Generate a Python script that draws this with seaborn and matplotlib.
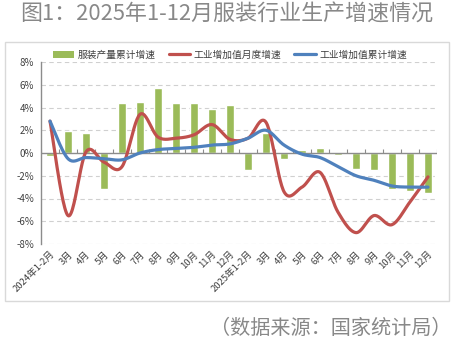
import numpy as np
import pandas as pd
import matplotlib
matplotlib.use("Agg")
import matplotlib.pyplot as plt
from matplotlib.patches import Patch, Rectangle
from matplotlib.lines import Line2D
import seaborn as sns

categories = ["2024年1-2月", "3月", "4月", "5月", "6月", "7月", "8月", "9月", "10月", "11月", "12月",
              "2025年1-2月", "3月 ", "4月 ", "5月 ", "6月 ", "7月 ", "8月 ", "9月 ", "10月 ", "11月 ", "12月 "]
tick_labels = ["2024年1-2月", "3月", "4月", "5月", "6月", "7月", "8月", "9月", "10月", "11月", "12月",
               "2025年1-2月", "3月", "4月", "5月", "6月", "7月", "8月", "9月", "10月", "11月", "12月"]
apparel_cum = [-0.3, 1.9, 1.8, -3.2, 4.4, 4.5, 5.7, 4.4, 4.4, 3.9, 4.2,
               -1.5, 1.8, -0.5, 0.3, 0.4, -0.2, -1.4, -1.5, -3.2, -3.3, -3.5]
iva_month = [2.8, -5.5, 0.1, -0.8, -1.2, 3.4, 1.4, 1.3, 1.6, 2.5, 1.2,
             1.3, 2.7, -3.4, -3.0, -1.7, -5.2, -7.0, -5.5, -6.3, -4.3, -2.1]
iva_cum = [2.8, -0.5, -0.4, -0.5, -0.6, 0.0, 0.3, 0.4, 0.5, 0.7, 0.8,
           1.3, 2.0, 0.7, -0.1, -0.4, -1.2, -2.0, -2.4, -2.9, -3.0, -3.0]
yticks = [-8, -6, -4, -2, 0, 2, 4, 6, 8]

GREEN = "#9BBB59"
RED = "#C0504D"
BLUE = "#4F81BD"
TXT = "#404040"

sns.set_style("white")
plt.rcParams["font.family"] = ["Noto Sans CJK SC", "DejaVu Sans"]

fig = plt.figure(figsize=(4.7, 3.44), dpi=100)
ax = fig.add_axes([41/470, 1-244/344, 396/470, 182/344])

df = pd.DataFrame({"cat": categories, "val": apparel_cum})
sns.barplot(data=df, x="cat", y="val", color=GREEN, saturation=1, width=0.42, ax=ax)


def smooth(xs, ys, n=24):
    xs = np.asarray(xs, float); ys = np.asarray(ys, float)
    P = np.column_stack([xs, ys])
    Pe = np.vstack([P[0], P, P[-1]])
    out = []
    for i in range(len(P) - 1):
        p0, p1, p2, p3 = Pe[i], Pe[i+1], Pe[i+2], Pe[i+3]
        c1 = p1 + (p2 - p0) / 6
        c2 = p2 - (p3 - p1) / 6
        t = np.linspace(0, 1, n, endpoint=(i == len(P) - 2))[:, None]
        seg = (1-t)**3*p1 + 3*(1-t)**2*t*c1 + 3*(1-t)*t**2*c2 + t**3*p2
        out.append(seg)
    out = np.vstack(out)
    return out[:, 0], out[:, 1]

xpos = np.arange(len(categories))
sx, sy = smooth(xpos, iva_month)
ax.plot(sx, sy, color=RED, lw=2.3, solid_capstyle="round", zorder=4)
sx, sy = smooth(xpos, iva_cum)
ax.plot(sx, sy, color=BLUE, lw=2.3, solid_capstyle="round", zorder=5)

ax.set_xlim(-0.5, len(categories) - 0.5)
ax.set_ylim(-8, 8)
ax.set_yticks(yticks)
ax.set_yticklabels([f"{v}%" for v in yticks], color=TXT, fontsize=7)
for v in yticks:
    if v != 0:
        ax.axhline(v, color="#d0d0d0", lw=0.8, ls=(0, (4, 3)), zorder=0)
ax.axhline(0, color="#8c8c8c", lw=1.0, zorder=3)
ax.vlines(np.arange(len(categories) + 1) - 0.5, 0, 0.35, color="#8c8c8c", lw=0.8, zorder=3)

ax.set_xticks(xpos)
ax.set_xticklabels(tick_labels, rotation=45, ha="right", rotation_mode="anchor",
                   color=TXT, fontsize=6.8)
ax.tick_params(axis="x", length=0, pad=4)
ax.tick_params(axis="y", length=0, pad=5)
ax.set_xlabel("")
ax.set_ylabel("")
for s in ["top", "right", "bottom"]:
    ax.spines[s].set_visible(False)
ax.spines["left"].set_color("#8c8c8c")
ax.spines["left"].set_linewidth(1.0)

handles = [Patch(facecolor=GREEN, edgecolor="none"),
           Line2D([0], [0], color=RED, lw=2.3),
           Line2D([0], [0], color=BLUE, lw=2.3)]
labels = ["服装产量累计增速", "工业增加值月度增速", "工业增加值累计增速"]
ax.legend(handles, labels, loc="center", bbox_to_anchor=(0.477, 1.04), ncol=3,
          frameon=False, fontsize=7, handlelength=2.2, handleheight=0.7,
          columnspacing=1.3, handletextpad=0.4, labelcolor=TXT)

fig.patches.append(Rectangle((5/470, 1-301/344), 444/470, 259/344, transform=fig.transFigure,
                             facecolor="none", edgecolor="#d9d9d9", lw=1.0))

fig.text(20/470, 1-15/344, "图1：2025年1-12月服装行业生产增速情况", fontsize=15.8,
         color="#888888", ha="left", va="center")
fig.text(452/470, 1-328/344, "（数据来源：国家统计局）", fontsize=14.5,
         color="#888888", ha="right", va="center")

fig.savefig("out.png", dpi=100)
